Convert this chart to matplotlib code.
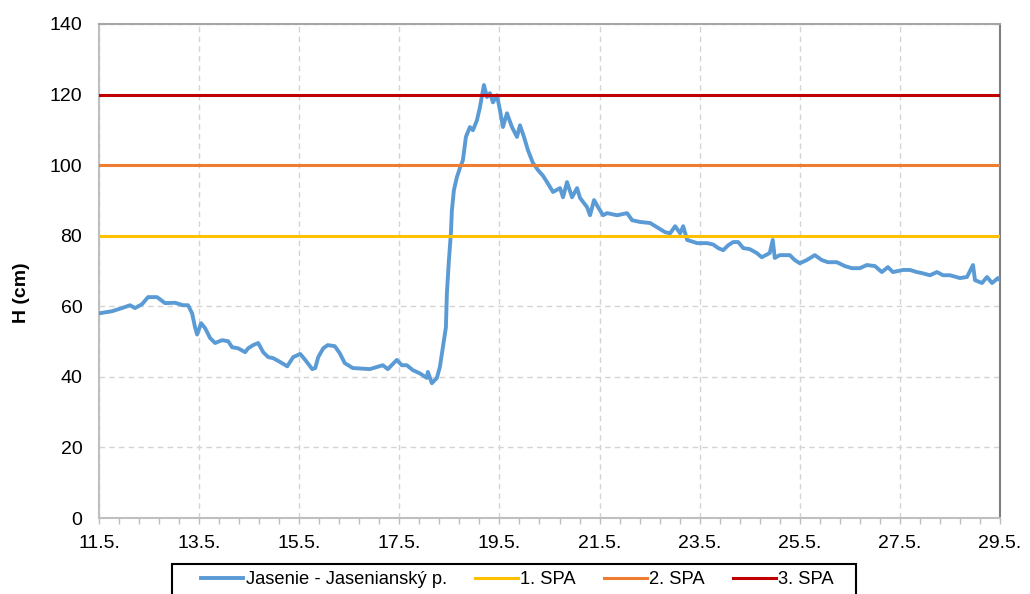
import matplotlib
matplotlib.use("Agg")
import matplotlib.pyplot as plt
from matplotlib.patches import Rectangle

plt.rcParams['font.family'] = ['Liberation Sans', 'DejaVu Sans']

# cas (den v maji) a vodny stav H (cm) - Jasenie - Jaseniansky p.
t_den = [11.00, 11.26, 11.46, 11.62, 11.72, 11.86, 11.98, 12.16, 12.32, 12.52,
         12.68, 12.78, 12.86, 12.92, 12.96, 13.04, 13.12, 13.22, 13.32, 13.46,
         13.58, 13.66, 13.78, 13.92, 13.98, 14.08, 14.18, 14.28, 14.38, 14.48,
         14.62, 14.76, 14.88, 15.02, 15.12, 15.26, 15.32, 15.38, 15.48, 15.57,
         15.71, 15.81, 15.91, 16.07, 16.41, 16.67, 16.77, 16.95, 17.05, 17.15,
         17.27, 17.41, 17.55, 17.57, 17.65, 17.75, 17.81, 17.87, 17.93, 17.95,
         17.99, 18.03, 18.05, 18.09, 18.15, 18.21, 18.27, 18.33, 18.41, 18.47,
         18.55, 18.61, 18.69, 18.75, 18.81, 18.87, 18.95, 19.01, 19.07, 19.15,
         19.25, 19.35, 19.41, 19.49, 19.57, 19.67, 19.77, 19.87, 19.95, 20.07,
         20.21, 20.27, 20.35, 20.45, 20.55, 20.61, 20.75, 20.81, 20.89, 20.97,
         21.07, 21.15, 21.35, 21.55, 21.65, 21.81, 22.01, 22.15, 22.31, 22.41,
         22.51, 22.61, 22.67, 22.75, 22.95, 23.15, 23.27, 23.37, 23.47, 23.57,
         23.67, 23.77, 23.87, 24.00, 24.14, 24.24, 24.40, 24.46, 24.50, 24.60,
         24.80, 24.90, 25.00, 25.14, 25.30, 25.44, 25.56, 25.74, 25.90, 26.04,
         26.20, 26.34, 26.50, 26.64, 26.76, 26.86, 27.06, 27.20, 27.34, 27.44,
         27.60, 27.74, 27.86, 28.00, 28.20, 28.34, 28.46, 28.50, 28.64, 28.74,
         28.84, 28.96, 29.00]
h_cm = [58.0, 58.6, 59.5, 60.3, 59.5, 60.6, 62.6, 62.6, 60.9, 61.0,
        60.3, 60.3, 58.0, 54.0, 52.0, 55.2, 53.8, 51.0, 49.6, 50.4,
        50.1, 48.4, 48.1, 47.0, 48.1, 49.0, 49.6, 47.0, 45.6, 45.3,
        44.2, 43.0, 45.6, 46.5, 44.8, 42.2, 42.5, 45.6, 48.1, 49.0,
        48.7, 46.7, 43.9, 42.5, 42.2, 43.3, 42.2, 44.8, 43.3, 43.3,
        41.9, 41.0, 39.7, 41.4, 38.2, 39.7, 42.8, 48.4, 54.0, 63.7,
        73.0, 80.7, 87.2, 92.9, 96.6, 99.2, 101.4, 108.0, 110.8, 109.9,
        112.7, 116.4, 122.7, 119.3, 120.4, 117.8, 119.8, 115.6, 110.8, 114.7,
        110.8, 108.0, 111.3, 108.0, 104.2, 100.6, 98.6, 97.0, 95.2, 92.4,
        93.5, 90.9, 95.2, 90.9, 93.5, 90.7, 88.1, 85.8, 90.1, 88.1,
        85.8, 86.4, 85.8, 86.4, 84.4, 83.9, 83.6, 82.4, 81.0, 80.7,
        82.7, 80.7, 82.7, 78.8, 77.9, 77.9, 77.5, 76.5, 75.9, 77.3,
        78.2, 78.2, 76.5, 76.2, 75.1, 73.9, 75.1, 78.8, 73.7, 74.5,
        74.5, 73.1, 72.2, 73.1, 74.5, 73.1, 72.5, 72.5, 71.4, 70.8,
        70.8, 71.7, 71.4, 69.7, 71.1, 69.7, 70.3, 70.3, 69.7, 69.4,
        68.8, 69.7, 68.8, 68.8, 68.0, 68.3, 71.7, 67.4, 66.6, 68.3,
        66.6, 68.0, 67.4]

# stupne povodnovej aktivity
spa_hodnoty = [80, 100, 120]
spa_nazvy = ["1. SPA", "2. SPA", "3. SPA"]
spa_farby = ["#FFC000", "#ED7D31", "#C00000"]

x_ticky = [11, 13, 15, 17, 19, 21, 23, 25, 27, 29]
x_popisy = ["11.5.", "13.5.", "15.5.", "17.5.", "19.5.", "21.5.", "23.5.", "25.5.", "27.5.", "29.5."]
y_ticky = [0, 20, 40, 60, 80, 100, 120, 140]

fig = plt.figure(figsize=(10.3, 5.94), dpi=100)
ax = fig.add_axes([0.0961, 0.1279, 0.8748, 0.8317])

ciary = []
l, = ax.plot(t_den, h_cm, color="#5B9BD5", lw=2.8, solid_joinstyle="round",
             label="Jasenie - Jasenianský p.", zorder=3)
ciary.append(l)
for v, n, c in zip(spa_hodnoty, spa_nazvy, spa_farby):
    l = ax.axhline(v, color=c, lw=2.2, label=n, zorder=4)
    ciary.append(l)

ax.set_xlim(11, 29)
ax.set_ylim(0, 140)
ax.set_xticks(x_ticky)
ax.set_xticklabels(x_popisy)
ax.set_xticks([11 + 0.4 * i for i in range(46)], minor=True)
ax.set_yticks(y_ticky)
ax.tick_params(axis="x", which="both", direction="out", length=4, width=1,
               color="#bfbfbf", labelsize=14, pad=8)
ax.tick_params(axis="y", length=0, labelsize=14, pad=12)

ax.grid(True, which="major", color="#d4d4d4", lw=1, ls=(0, (4, 3)))
ax.set_axisbelow(True)
ax.spines["left"].set_color("#bfbfbf")
ax.spines["bottom"].set_color("#bfbfbf")
ax.spines["top"].set_color("#a6a6a6")
ax.spines["right"].set_color("#7f7f7f")
for s in ax.spines.values():
    s.set_linewidth(1.5)

fig.text(0.021, 0.508, "H (cm)", rotation=90, ha="center", va="center",
         fontsize=14, fontweight="bold")

# ramcek legendy
fig.add_artist(Rectangle((172 / 1030, -0.05), (856 - 172) / 1030, 0.05 + 30 / 594,
                         transform=fig.transFigure, fill=False, ec="black", lw=1.5))
fig.legend(handles=ciary, loc="center left", bbox_to_anchor=(201 / 1030, 1 - 580 / 594),
           ncol=4, frameon=False, fontsize=13.2, handlelength=2.3, handletextpad=0.15,
           columnspacing=1.55, borderpad=0, borderaxespad=0)

fig.savefig("out.png", dpi=100)
